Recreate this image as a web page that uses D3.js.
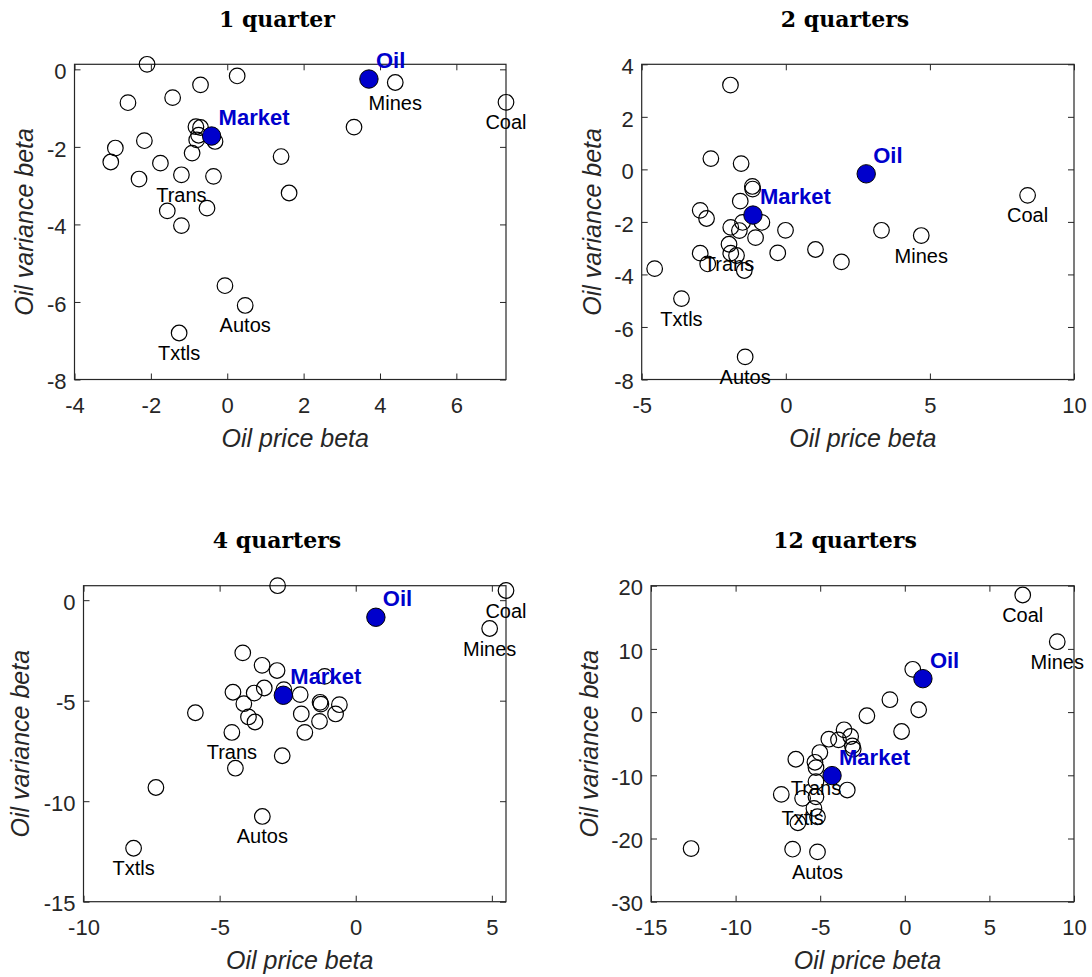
<!DOCTYPE html>
<html>
<head>
<meta charset="utf-8">
<script src="https://cdn.jsdelivr.net/npm/d3@7"></script>
<style>
    body { margin: 0; background: #fff; }
    svg text { font-family: "Liberation Sans", Arial, Helvetica, sans-serif; }
</style>
</head>
<body>
<svg id="chart" width="1092" height="977"></svg>
<script>
// Panel titles (horizon of the beta)
const horizons = ["1 quarter", "2 quarters", "4 quarters", "12 quarters"];

// Industry betas: x = oil price beta, y = oil variance beta, names only for labelled industries
const priceBeta1 = [-2.10, 0.26, -0.70, -2.60, -1.43, -0.82, -0.70, -0.75, -0.80, -0.32, -2.17, -2.93, -3.05, -1.75, -0.92,
                    -2.31, -1.20, -0.36, 1.41, 1.62, -1.57, -0.53, -1.20, 3.32, 4.40, 7.30, -0.06, 0.47, -1.26];
const varBeta1   = [0.13, -0.17, -0.40, -0.86, -0.73, -1.48, -1.50, -1.70, -1.82, -1.86, -1.84, -2.03, -2.39, -2.42, -2.16,
                    -2.83, -2.72, -2.76, -2.25, -3.19, -3.65, -3.58, -4.03, -1.49, -0.34, -0.85, -5.58, -6.09, -6.80];
const names1 = {16: "Trans", 24: "Mines", 25: "Coal", 27: "Autos", 28: "Txtls"};

const priceBeta2 = [-1.92, -2.60, -1.55, -1.16, -1.15, -1.58, -2.97, -2.75, -1.91, -1.50, -1.61, -0.83, -1.05, -0.01, -1.97,
                    -1.91, -1.71, -2.97, -2.71, -1.44, -0.28, 1.03, 1.93, -4.55, -3.62, -1.41, 3.32, 4.70, 8.39];
const varBeta2   = [3.21, 0.41, 0.22, -0.65, -0.75, -1.21, -1.56, -1.87, -2.21, -2.02, -2.33, -2.02, -2.60, -2.32, -2.85,
                    -3.19, -3.28, -3.19, -3.60, -3.85, -3.18, -3.05, -3.52, -3.78, -4.92, -7.14, -2.32, -2.52, -0.99];
const names2 = {14: "Trans", 24: "Txtls", 25: "Autos", 27: "Mines", 28: "Coal"};

const priceBeta4 = [-2.87, 5.52, 4.92, -4.15, -3.44, -2.89, -1.14, -2.64, -3.36, -4.51, -3.73, -2.04, -1.31, -1.28, -0.60,
                    -4.11, -5.89, -3.94, -3.70, -2.00, -0.74, -1.33, -1.87, -4.55, -2.70, -4.42, -7.34, -3.43, -8.16];
const varBeta4   = [0.72, 0.48, -1.41, -2.62, -3.24, -3.50, -3.79, -4.45, -4.37, -4.58, -4.62, -4.70, -5.08, -5.17, -5.20,
                    -5.15, -5.60, -5.81, -6.06, -5.66, -5.66, -6.03, -6.58, -6.58, -7.74, -8.36, -9.32, -10.76, -12.34];
const names4 = {1: "Coal", 2: "Mines", 23: "Trans", 27: "Autos", 28: "Txtls"};

const priceBeta12 = [6.97, 9.01, 0.47, -0.88, 0.82, -2.24, -0.19, -3.59, -3.20, -4.49, -3.92, -3.10, -3.05, -5.02, -6.44,
                     -5.31, -5.25, -5.25, -3.40, -7.30, -6.04, -5.25, -5.37, -5.16, -6.32, -12.63, -6.63, -5.16];
const varBeta12   = [18.53, 11.14, 6.77, 1.96, 0.37, -0.58, -3.07, -2.80, -3.86, -4.29, -4.39, -5.34, -5.87, -6.40, -7.46,
                     -7.94, -8.78, -11.0, -12.33, -13.02, -13.65, -13.4, -15.24, -16.56, -17.51, -21.59, -21.69, -22.12];
const names12 = {0: "Coal", 1: "Mines", 16: "Trans", 20: "Txtls", 27: "Autos"};

// Market portfolio and oil itself, one value per horizon
const marketPrice = [-0.41, -1.14, -2.66, -4.30];
const marketVar   = [-1.72, -1.74, -4.73, -10.05];
const oilPrice    = [3.71, 2.79, 0.74, 1.07];
const oilVar      = [-0.25, -0.17, -0.85, 5.29];

// Axis limits and ticks
const xDomains = [[-4, 7.30], [-5, 10], [-10, 5.52], [-15, 10]];
const yDomains = [[-8, 0.13], [-8, 4], [-15, 0.72], [-30, 20]];
const xTicks = [[-4, -2, 0, 2, 4, 6], [-5, 0, 5, 10], [-10, -5, 0, 5], [-15, -10, -5, 0, 5, 10]];
const yTicks = [[-8, -6, -4, -2, 0], [-8, -6, -4, -2, 0, 2, 4], [-15, -10, -5, 0], [-30, -20, -10, 0, 10, 20]];

const industryX = [priceBeta1, priceBeta2, priceBeta4, priceBeta12];
const industryY = [varBeta1, varBeta2, varBeta4, varBeta12];
const industryNames = [names1, names2, names4, names12];

// Layout of the four axes boxes (pixels)
const boxes = [
    {left: 74.5, right: 506,  top: 64.3,  bottom: 379.5, titleX: 277, yLabelX: 24},
    {left: 641.7, right: 1074, top: 64.3, bottom: 379.5, titleX: 845, yLabelX: 592},
    {left: 83.5, right: 506,  top: 585.7, bottom: 901.7, titleX: 277, yLabelX: 20},
    {left: 651, right: 1074,  top: 585.7, bottom: 901.7, titleX: 845, yLabelX: 589}
];

const axisColor = "#262626";
const blue = "#0000cc";

const svg = d3.select("#chart");

boxes.forEach(function(b, i) {
    let x = d3.scaleLinear().domain(xDomains[i]).range([b.left, b.right]);
    let y = d3.scaleLinear().domain(yDomains[i]).range([b.bottom, b.top]);
    let g = svg.append("g");

    // title
    g.append("text")
        .attr("x", b.titleX)
        .attr("y", b.top - 45)
        .attr("dy", "0.35em")
        .attr("text-anchor", "middle")
        .style("font-family", "'DejaVu Serif', serif")
        .style("font-weight", "bold")
        .style("font-size", "22px")
        .text(horizons[i]);

    // axes, ticks pointing inwards on all four sides
    let fmt = function(d) { return String(d); };
    let bottomAxis = d3.axisBottom(x).tickValues(xTicks[i]).tickFormat(fmt).tickSizeInner(-6).tickSizeOuter(0).tickPadding(18);
    let leftAxis = d3.axisLeft(y).tickValues(yTicks[i]).tickFormat(fmt).tickSizeInner(-6).tickSizeOuter(0).tickPadding(8);
    let topAxis = d3.axisTop(x).tickValues(xTicks[i]).tickFormat("").tickSizeInner(-6).tickSizeOuter(0);
    let rightAxis = d3.axisRight(y).tickValues(yTicks[i]).tickFormat("").tickSizeInner(-6).tickSizeOuter(0);

    let axes = [
        [bottomAxis, "translate(0," + b.bottom + ")"],
        [leftAxis, "translate(" + b.left + ",0)"],
        [topAxis, "translate(0," + b.top + ")"],
        [rightAxis, "translate(" + b.right + ",0)"]
    ];
    axes.forEach(function(a) {
        let ag = g.append("g").attr("transform", a[1]).call(a[0]);
        ag.select(".domain").remove();
        ag.selectAll("line").attr("stroke", axisColor);
        ag.selectAll("text")
            .attr("fill", axisColor)
            .style("font-family", "'Liberation Sans', Arial, sans-serif")
            .style("font-size", "22px");
    });
    g.selectAll("g").filter(function() { return d3.select(this).attr("text-anchor") === "end"; })
        .selectAll("text").attr("dy", "0.42em");

    g.append("rect")
        .attr("x", b.left).attr("y", b.top)
        .attr("width", b.right - b.left).attr("height", b.bottom - b.top)
        .attr("fill", "none")
        .attr("stroke", axisColor)
        .attr("stroke-width", 1.2);

    // axis labels
    g.append("text")
        .attr("x", (b.left + b.right) / 2 + 5)
        .attr("y", b.bottom + 59)
        .attr("dy", "0.35em")
        .attr("text-anchor", "middle")
        .attr("fill", axisColor)
        .style("font-style", "italic")
        .style("font-size", "25px")
        .text("Oil price beta");

    g.append("text")
        .attr("transform", "translate(" + b.yLabelX + "," + (b.top + b.bottom) / 2 + ") rotate(-90)")
        .attr("dy", "0.35em")
        .attr("text-anchor", "middle")
        .attr("fill", axisColor)
        .style("font-style", "italic")
        .style("font-size", "25px")
        .text("Oil variance beta");

    // industries
    let pts = industryX[i].map(function(v, k) {
        return {x: v, y: industryY[i][k], name: industryNames[i][k] || ""};
    });

    g.selectAll("circle.ind")
        .data(pts)
        .enter()
        .append("circle")
        .attr("class", "ind")
        .attr("cx", function(d) { return x(d.x); })
        .attr("cy", function(d) { return y(d.y); })
        .attr("r", 7.8)
        .attr("fill", "none")
        .attr("stroke", "black")
        .attr("stroke-width", 1.2);

    // market and oil
    let special = [
        {x: marketPrice[i], y: marketVar[i], name: "Market"},
        {x: oilPrice[i], y: oilVar[i], name: "Oil"}
    ];
    g.selectAll("circle.special")
        .data(special)
        .enter()
        .append("circle")
        .attr("class", "special")
        .attr("cx", function(d) { return x(d.x); })
        .attr("cy", function(d) { return y(d.y); })
        .attr("r", 9.2)
        .attr("fill", blue)
        .attr("stroke", "black")
        .attr("stroke-width", 1);

    g.selectAll("text.ind")
        .data(pts.filter(function(d) { return d.name !== ""; }))
        .enter()
        .append("text")
        .attr("class", "ind")
        .attr("x", function(d) { return x(d.x); })
        .attr("y", function(d) { return y(d.y) + 27; })
        .attr("text-anchor", "middle")
        .attr("fill", "black")
        .style("font-size", "20px")
        .text(function(d) { return d.name; });

    g.selectAll("text.special")
        .data(special)
        .enter()
        .append("text")
        .attr("class", "special")
        .attr("x", function(d) { return x(d.x) + 7; })
        .attr("y", function(d) { return y(d.y) - 11; })
        .attr("fill", blue)
        .style("font-weight", "bold")
        .style("font-size", "22px")
        .text(function(d) { return d.name; });
});
</script>
</body>
</html>
